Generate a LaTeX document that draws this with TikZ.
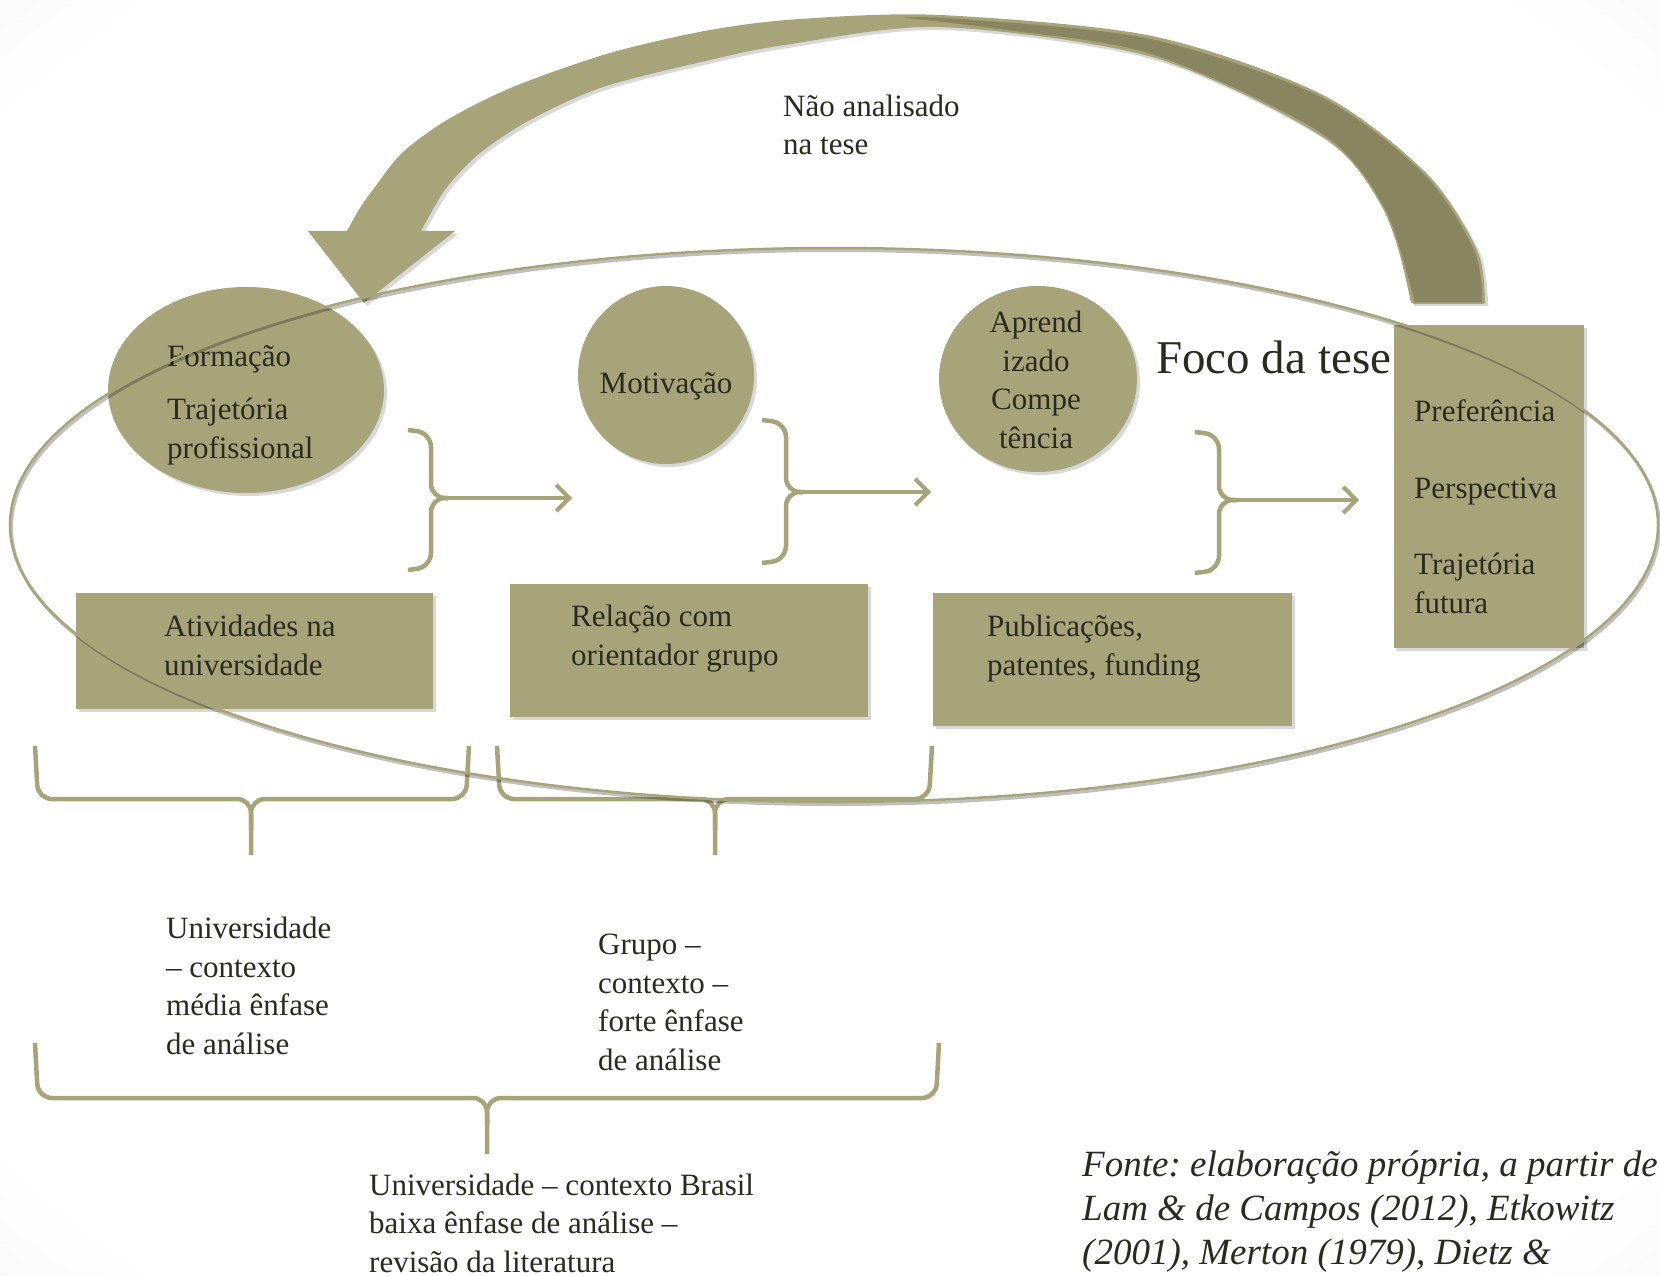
\documentclass[tikz,border=0pt]{standalone}
\usepackage{fontspec}
\setmainfont{Liberation Serif}
\usetikzlibrary{shapes.geometric,arrows.meta,shadows}

\definecolor{khaki}{HTML}{A8A47A}
\definecolor{khakidark}{HTML}{898560}
\definecolor{ink}{HTML}{2A2A20}

\pgfdeclareradialshading{vignette}{\pgfpoint{0bp}{0bp}}{color(0bp)=(white); color(32bp)=(white); color(50bp)=(black!10); color(72bp)=(black!20)}

\tikzset{
  soft/.style={drop shadow={opacity=0.3, shadow xshift=3pt, shadow yshift=-3pt}},
  blob/.style={ellipse, fill=khaki, draw=none, inner sep=0pt, soft},
  box/.style={rectangle, fill=khaki, draw=none, inner sep=0pt, soft},
  txt/.style={anchor=base west, align=left, text=ink, inner sep=0pt, font=\fontsize{31}{38.5}\selectfont},
  brace/.style={draw=khaki, line width=4.5pt, rounded corners=14pt},
  link/.style={draw=khaki, line width=4pt, -{Straight Barb[length=13pt,width=26pt]}},
}

\begin{document}
\frenchspacing
\begin{tikzpicture}[x=1pt,y=-1pt]

  \useasboundingbox (0,0) rectangle (1660,1276);
  \shade[shading=vignette] (0,0) rectangle (1660,1276);

  % curved arrow back to the start
  \path[fill=khaki, soft] plot[smooth] coordinates {(347,231) (360,208) (375,187) (402,153) (447,120) (513,87) (610,53) (710,30) (800,19) (940,15) (1152,36) (1321,94) (1426,173) (1477,250) (1485,303)}
    -- plot[smooth] coordinates {(1411,303) (1384,207) (1321,136) (1152,57) (940,27) (785,45) (710,60) (603,87) (530,120) (480,153) (447,187) (427,220) (421,231)}
    -- (455,231) -- (364,303) -- (308,231) -- cycle;
  \path[fill=khakidark, draw=khaki, line width=1.5pt] plot[smooth] coordinates {(1483,303) (1475,250) (1424,173) (1319,95) (1150,38) (960,18) (890,17)}
    -- plot[smooth] coordinates {(890,17) (1000,30) (1152,55) (1321,134) (1384,209) (1414,303)} -- cycle;

  \draw (246,390) node[blob,minimum width=276,minimum height=206] (formacao) {};
  \draw (666,375) node[blob,minimum width=176,minimum height=178] (motivacao) {};
  \draw (1038,379) node[blob,minimum width=198,minimum height=186] (aprendizado) {};

  \draw (254.5,651) node[box,minimum width=357,minimum height=116] (atividades) {};
  \draw (689,650.5) node[box,minimum width=358,minimum height=133] (relacao) {};
  \draw (1112.5,659.5) node[box,minimum width=359,minimum height=133] (publicacoes) {};
  \draw (1489,486.5) node[box,minimum width=190,minimum height=323] (futuro) {};

  % text, placed on the baseline of its last line
  \draw (167,458) node[txt] (formacaotxt) {Formação\\[14.5pt]Trajetória\\profissional};
  \draw (666,393) node[txt,anchor=base] (motivacaotxt) {Motivação};
  \draw (1036,448) node[txt,anchor=base,align=center] (aprendizadotxt) {Aprend\\izado\\Compe\\tência};
  \draw (164,675) node[txt] (atividadestxt) {Atividades na\\universidade};
  \draw (571,665) node[txt] (relacaotxt) {Relação com\\orientador grupo};
  \draw (987,675) node[txt] (publicacoestxt) {Publicações,\\patentes, funding};
  \draw (1414,613) node[txt] (futurotxt) {Preferência\\[38pt]Perspectiva\\[38pt]Trajetória\\futura};

  \draw (783,155) node[txt] (naotxt) {Não analisado\\na tese};
  \draw (1156,373) node[txt,font=\fontsize{47}{56}\selectfont] (focotxt) {Foco da tese};

  % brackets leading to the next step
  \coordinate (tip1) at (448,498);
  \coordinate (end1) at (572,498);
  \draw[brace] (408,430) -- (431,433) -- (431,498) -- (tip1);
  \draw[brace] (408,570) -- (431,567) -- (431,498) -- (tip1);
  \draw[link] (tip1) -- (end1);

  \coordinate (tip2) at (803,492);
  \coordinate (end2) at (931,492);
  \draw[brace] (762,420) -- (786,423) -- (786,492) -- (tip2);
  \draw[brace] (762,563) -- (786,560) -- (786,492) -- (tip2);
  \draw[link] (tip2) -- (end2);

  \coordinate (tip3) at (1236,500);
  \coordinate (end3) at (1359,500);
  \draw[brace] (1195,432) -- (1219,435) -- (1219,500) -- (tip3);
  \draw[brace] (1195,573) -- (1219,570) -- (1219,500) -- (tip3);
  \draw[link] (tip3) -- (end3);

  % braces under the boxes
  \draw[brace] (35,746) -- (38,799) -- (251,799) -- (251,855);
  \draw[brace] (469,746) -- (466,799) -- (251,799) -- (251,830);
  \draw[brace] (497,746) -- (500,799) -- (715,799) -- (715,855);
  \draw[brace] (932,746) -- (929,799) -- (715,799) -- (715,830);
  \draw[brace] (35,1043) -- (38,1098) -- (487,1098) -- (487,1154);
  \draw[brace] (939,1043) -- (936,1098) -- (487,1098) -- (487,1125);

  \draw (166,1054) node[txt] (universidadetxt) {Universidade\\– contexto\\média ênfase\\de análise};
  \draw (598,1070) node[txt] (grupotxt) {Grupo –\\contexto –\\forte ênfase\\de análise};
  \draw (369,1272) node[txt] (brasiltxt) {Universidade – contexto Brasil\\baixa ênfase de análise –\\revisão da literatura};

  \draw (1082,1264) node[txt,font=\fontsize{37}{44}\selectfont\itshape] (fontetxt) {Fonte: elaboração própria, a partir de\\Lam \& de Campos (2012), Etkowitz\\(2001), Merton (1979), Dietz \&};

  % focus of the thesis
  \draw[black, opacity=0.25, line width=3pt] (835.5,527.5) ellipse [x radius=824pt, y radius=277pt];
  \draw[khaki, line width=2.5pt] (834,525) ellipse [x radius=824pt, y radius=277pt];

\end{tikzpicture}
\end{document}
